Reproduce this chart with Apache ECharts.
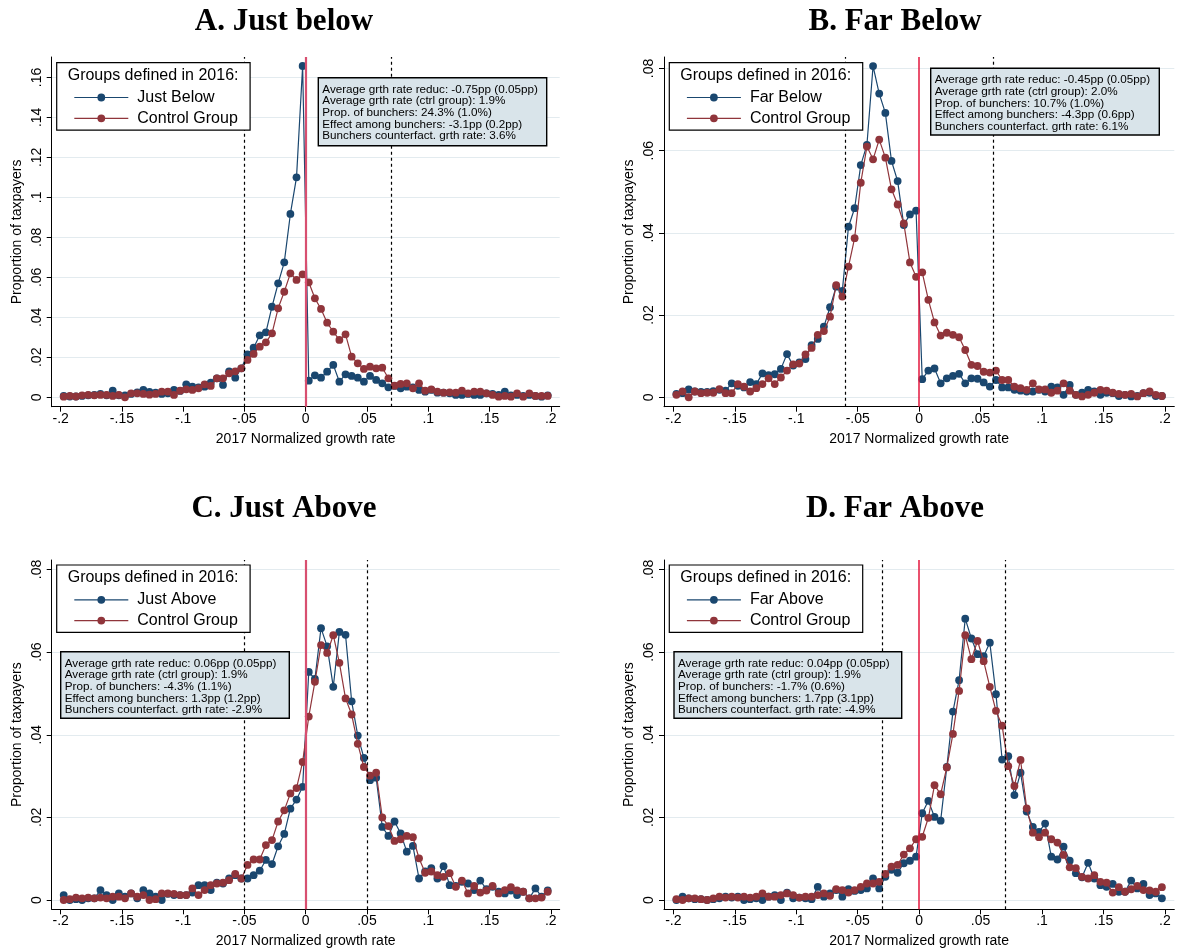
<!DOCTYPE html>
<html><head><meta charset="utf-8">
<script src="https://cdn.jsdelivr.net/npm/echarts@6/dist/echarts.min.js"></script>
<style>html,body{margin:0;padding:0;background:#fff}#c{width:1177px;height:950px}</style>
</head><body><div id="c"></div>
<script>
// ---------------- DATA ----------------
const binCenters = [
-0.1975,-0.1925,-0.1875,-0.1825,-0.1775,-0.1725,-0.1675,-0.1625,-0.1575,-0.1525,
-0.1475,-0.1425,-0.1375,-0.1325,-0.1275,-0.1225,-0.1175,-0.1125,-0.1075,-0.1025,
-0.0975,-0.0925,-0.0875,-0.0825,-0.0775,-0.0725,-0.0675,-0.0625,-0.0575,-0.0525,
-0.0475,-0.0425,-0.0375,-0.0325,-0.0275,-0.0225,-0.0175,-0.0125,-0.0075,-0.0025,
0.0025,0.0075,0.0125,0.0175,0.0225,0.0275,0.0325,0.0375,0.0425,0.0475,
0.0525,0.0575,0.0625,0.0675,0.0725,0.0775,0.0825,0.0875,0.0925,0.0975,
0.1025,0.1075,0.1125,0.1175,0.1225,0.1275,0.1325,0.1375,0.1425,0.1475,
0.1525,0.1575,0.1625,0.1675,0.1725,0.1775,0.1825,0.1875,0.1925,0.1975];

const justBelow = [
0.0007,0.0004,0.0004,0.0007,0.0010,0.0012,0.0017,0.0010,0.0033,0.0010,
0.0010,0.0017,0.0025,0.0037,0.0027,0.0023,0.0017,0.0020,0.0037,0.0032,
0.0065,0.0053,0.0050,0.0053,0.0073,0.0095,0.0062,0.0130,0.0098,0.0145,
0.0215,0.0248,0.0310,0.0325,0.0453,0.0570,0.0675,0.0917,0.1100,0.1657,
0.0083,0.0110,0.0098,0.0128,0.0162,0.0078,0.0115,0.0107,0.0098,0.0078,
0.0107,0.0087,0.0070,0.0050,0.0057,0.0045,0.0053,0.0050,0.0037,0.0028,
0.0037,0.0023,0.0023,0.0020,0.0012,0.0012,0.0017,0.0012,0.0012,0.0020,
0.0017,0.0012,0.0028,0.0010,0.0012,0.0007,0.0012,0.0007,0.0003,0.0010];
const controlA = [
0.0003,0.0007,0.0004,0.0010,0.0012,0.0010,0.0012,0.0012,0.0007,0.0012,
0.0000,0.0020,0.0020,0.0017,0.0013,0.0017,0.0028,0.0028,0.0012,0.0033,
0.0040,0.0037,0.0045,0.0065,0.0057,0.0095,0.0095,0.0120,0.0130,0.0145,
0.0187,0.0217,0.0253,0.0275,0.0320,0.0445,0.0528,0.0620,0.0587,0.0615,
0.0575,0.0495,0.0442,0.0373,0.0328,0.0287,0.0315,0.0203,0.0170,0.0142,
0.0153,0.0145,0.0148,0.0095,0.0058,0.0067,0.0070,0.0045,0.0070,0.0033,
0.0040,0.0028,0.0023,0.0025,0.0023,0.0033,0.0020,0.0028,0.0028,0.0020,
0.0012,0.0003,0.0007,0.0003,0.0020,0.0003,0.0020,0.0007,0.0007,0.0007];

const farBelow = [
0.0008,0.0010,0.0019,0.0014,0.0013,0.0013,0.0015,0.0018,0.0016,0.0034,
0.0028,0.0024,0.0037,0.0032,0.0058,0.0054,0.0056,0.0069,0.0105,0.0077,
0.0085,0.0093,0.0127,0.0142,0.0172,0.0219,0.0269,0.0259,0.0415,0.0460,
0.0565,0.0614,0.0806,0.0739,0.0692,0.0575,0.0526,0.0419,0.0445,0.0454,
0.0044,0.0065,0.0070,0.0034,0.0046,0.0052,0.0057,0.0034,0.0046,0.0045,
0.0036,0.0026,0.0042,0.0024,0.0024,0.0018,0.0016,0.0014,0.0014,0.0018,
0.0014,0.0026,0.0024,0.0006,0.0030,0.0006,0.0011,0.0018,0.0014,0.0006,
0.0011,0.0010,0.0003,0.0006,0.0002,0.0003,0.0010,0.0011,0.0003,0.0003];
const controlB = [
0.0006,0.0014,0.0000,0.0014,0.0010,0.0011,0.0011,0.0020,0.0010,0.0010,
0.0032,0.0026,0.0014,0.0022,0.0032,0.0046,0.0032,0.0048,0.0065,0.0080,
0.0082,0.0104,0.0120,0.0152,0.0161,0.0196,0.0273,0.0245,0.0318,0.0387,
0.0522,0.0610,0.0579,0.0627,0.0583,0.0506,0.0469,0.0423,0.0328,0.0293,
0.0304,0.0237,0.0182,0.0150,0.0157,0.0152,0.0146,0.0115,0.0079,0.0076,
0.0062,0.0060,0.0065,0.0042,0.0042,0.0026,0.0022,0.0018,0.0034,0.0019,
0.0019,0.0011,0.0016,0.0034,0.0016,0.0006,0.0002,0.0006,0.0011,0.0018,
0.0016,0.0011,0.0008,0.0006,0.0008,0.0002,0.0010,0.0014,0.0006,0.0003];

const justAbove = [
0.0012,0.0000,0.0002,0.0000,0.0004,0.0004,0.0024,0.0012,0.0000,0.0016,
0.0008,0.0016,0.0004,0.0024,0.0016,0.0008,0.0000,0.0015,0.0012,0.0012,
0.0012,0.0018,0.0036,0.0036,0.0024,0.0042,0.0040,0.0052,0.0060,0.0052,
0.0052,0.0060,0.0071,0.0097,0.0087,0.0130,0.0160,0.0221,0.0243,0.0274,
0.0552,0.0535,0.0658,0.0614,0.0516,0.0649,0.0642,0.0481,0.0398,0.0344,
0.0290,0.0296,0.0177,0.0155,0.0190,0.0161,0.0117,0.0131,0.0052,0.0069,
0.0077,0.0052,0.0082,0.0036,0.0034,0.0044,0.0040,0.0024,0.0047,0.0026,
0.0032,0.0020,0.0016,0.0023,0.0012,0.0020,0.0004,0.0028,0.0008,0.0023];
const controlC = [
0.0000,0.0002,0.0006,0.0004,0.0006,0.0004,0.0006,0.0004,0.0008,0.0008,
0.0004,0.0016,0.0008,0.0012,0.0000,0.0002,0.0016,0.0016,0.0015,0.0012,
0.0012,0.0028,0.0012,0.0024,0.0036,0.0040,0.0042,0.0048,0.0063,0.0052,
0.0085,0.0098,0.0098,0.0133,0.0145,0.0190,0.0217,0.0258,0.0271,0.0334,
0.0444,0.0528,0.0617,0.0598,0.0641,0.0574,0.0488,0.0449,0.0378,0.0322,
0.0301,0.0308,0.0200,0.0179,0.0143,0.0147,0.0155,0.0152,0.0101,0.0066,
0.0069,0.0060,0.0056,0.0065,0.0032,0.0047,0.0016,0.0034,0.0018,0.0023,
0.0034,0.0016,0.0024,0.0031,0.0023,0.0020,0.0004,0.0004,0.0006,0.0020];

const farAbove = [
0.0000,0.0008,0.0004,0.0002,0.0002,0.0000,0.0002,0.0004,0.0008,0.0006,
0.0008,0.0000,0.0002,0.0004,0.0000,0.0008,0.0012,0.0000,0.0018,0.0004,
0.0006,0.0004,0.0002,0.0032,0.0008,0.0016,0.0024,0.0008,0.0026,0.0022,
0.0024,0.0028,0.0052,0.0028,0.0056,0.0073,0.0066,0.0089,0.0095,0.0105,
0.0210,0.0240,0.0201,0.0192,0.0322,0.0456,0.0532,0.0681,0.0633,0.0595,
0.0590,0.0623,0.0498,0.0340,0.0348,0.0254,0.0308,0.0214,0.0177,0.0165,
0.0185,0.0105,0.0098,0.0129,0.0095,0.0065,0.0055,0.0090,0.0052,0.0036,
0.0032,0.0039,0.0020,0.0020,0.0047,0.0028,0.0039,0.0012,0.0016,0.0004];
const controlD = [
0.0002,0.0000,0.0004,0.0004,0.0002,0.0000,0.0004,0.0008,0.0006,0.0008,
0.0006,0.0008,0.0006,0.0008,0.0016,0.0008,0.0008,0.0012,0.0016,0.0012,
0.0006,0.0008,0.0008,0.0012,0.0016,0.0010,0.0026,0.0024,0.0018,0.0024,
0.0032,0.0040,0.0040,0.0044,0.0063,0.0081,0.0085,0.0110,0.0125,0.0147,
0.0153,0.0199,0.0278,0.0256,0.0321,0.0402,0.0506,0.0641,0.0583,0.0627,
0.0578,0.0516,0.0458,0.0422,0.0324,0.0276,0.0339,0.0222,0.0163,0.0152,
0.0163,0.0147,0.0139,0.0109,0.0079,0.0077,0.0056,0.0052,0.0060,0.0044,
0.0042,0.0018,0.0031,0.0020,0.0026,0.0034,0.0024,0.0023,0.0020,0.0031];

const panelTitles = ['A. Just below', 'B. Far Below', 'C. Just Above', 'D. Far Above'];
const groupNames = ['Just Below', 'Far Below', 'Just Above', 'Far Above'];
const controlName = 'Control Group';
const legendTitle = 'Groups defined in 2016:';
const xAxisTitle = '2017 Normalized growth rate';
const yAxisTitle = 'Proportion of taxpayers';
const xTickValues = [-0.2, -0.15, -0.1, -0.05, 0, 0.05, 0.1, 0.15, 0.2];
const xTickLabels = ['-.2', '-.15', '-.1', '-.05', '0', '.05', '.1', '.15', '.2'];
const yTickValuesA = [0, 0.02, 0.04, 0.06, 0.08, 0.10, 0.12, 0.14, 0.16];
const yTickLabelsA = ['0', '.02', '.04', '.06', '.08', '.1', '.12', '.14', '.16'];
const yTickValuesB = [0, 0.02, 0.04, 0.06, 0.08];
const yTickLabelsB = ['0', '.02', '.04', '.06', '.08'];
const cutoffsA = [-0.05, 0.07];
const cutoffsB = [-0.06, 0.06];
const cutoffsC = [-0.05, 0.05];
const cutoffsD = [-0.03, 0.07];
const statsA = ['Average grth rate reduc: -0.75pp (0.05pp)', 'Average grth rate (ctrl group): 1.9%', 'Prop. of bunchers: 24.3% (1.0%)', 'Effect among bunchers: -3.1pp (0.2pp)', 'Bunchers counterfact. grth rate: 3.6%'];
const statsB = ['Average grth rate reduc: -0.45pp (0.05pp)', 'Average grth rate (ctrl group): 2.0%', 'Prop. of bunchers: 10.7% (1.0%)', 'Effect among bunchers: -4.3pp (0.6pp)', 'Bunchers counterfact. grth rate: 6.1%'];
const statsC = ['Average grth rate reduc: 0.06pp (0.05pp)', 'Average grth rate (ctrl group): 1.9%', 'Prop. of bunchers: -4.3% (1.1%)', 'Effect among bunchers: 1.3pp (1.2pp)', 'Bunchers counterfact. grth rate: -2.9%'];
const statsD = ['Average grth rate reduc: 0.04pp (0.05pp)', 'Average grth rate (ctrl group): 1.9%', 'Prop. of bunchers: -1.7% (0.6%)', 'Effect among bunchers: 1.7pp (3.1pp)', 'Bunchers counterfact. grth rate: -4.9%'];

// ---------------- STYLE / LAYOUT ----------------
const BLUE = '#1a476f', RED = '#90353b';
const FONT = 'Liberation Sans, Arial, sans-serif';
const panels = [
  {grid:{left:51.7, top:57, width:508, height:349.7}, xMin:-0.2073, xMax:0.2073, yMin:-0.0047, yMax:0.1702,
   yVals:yTickValuesA, yLabs:yTickLabelsA, g:justBelow, c:controlA, cut:cutoffsA, stats:statsA,
   zeroColor:'#d84f70', zeroWidth:2.2, title:{x:284, y:22}, leg:{x:56.7, y:62.7}, box:{x:318.3, y:77.7, w:228.4, h:68}},
  {grid:{left:664, top:57, width:510.3, height:349.7}, xMin:-0.2076, xMax:0.2076, yMin:-0.0023, yMax:0.0828,
   yVals:yTickValuesB, yLabs:yTickLabelsB, g:farBelow, c:controlB, cut:cutoffsB, stats:statsB,
   zeroColor:'#e3173e', zeroWidth:1.5, title:{x:895, y:22}, leg:{x:669.3, y:62.7}, box:{x:930.7, y:68.3, w:228.6, h:66.7}},
  {grid:{left:51.7, top:560, width:508, height:349.3}, xMin:-0.2073, xMax:0.2073, yMin:-0.00225, yMax:0.0823,
   yVals:yTickValuesB, yLabs:yTickLabelsB, g:justAbove, c:controlC, cut:cutoffsC, stats:statsC,
   zeroColor:'#d84f70', zeroWidth:2.2, title:{x:284, y:509}, leg:{x:56.7, y:565}, box:{x:60.7, y:651.7, w:228.6, h:66.6}},
  {grid:{left:664, top:560, width:510.3, height:349.3}, xMin:-0.2076, xMax:0.2076, yMin:-0.00225, yMax:0.0823,
   yVals:yTickValuesB, yLabs:yTickLabelsB, g:farAbove, c:controlD, cut:cutoffsD, stats:statsD,
   zeroColor:'#e3173e', zeroWidth:1.5, title:{x:895, y:509}, leg:{x:669.3, y:565}, box:{x:674, y:651.7, w:227.7, h:66.6}}
];

function lookup(vals, labs) {
  return function (v) {
    for (let i = 0; i < vals.length; i++) if (Math.abs(vals[i] - v) < 1e-6) return labs[i];
    return '';
  };
}

const grids = [], xAxes = [], yAxes = [], series = [], graphics = [];
panels.forEach((p, i) => {
  grids.push(Object.assign({containLabel:false}, p.grid));
  xAxes.push({
    type:'value', gridIndex:i, min:p.xMin, max:p.xMax,
    axisLine:{show:true, onZero:false, lineStyle:{color:'#000', width:1}},
    axisTick:{show:true, length:5, customValues:xTickValues, lineStyle:{color:'#000'}},
    axisLabel:{customValues:xTickValues, formatter:lookup(xTickValues, xTickLabels), color:'#000', fontSize:14, fontFamily:FONT, margin:5},
    splitLine:{show:false},
    name:xAxisTitle, nameLocation:'middle', nameGap:25,
    nameTextStyle:{color:'#000', fontSize:14, fontFamily:FONT}
  });
  yAxes.push({
    type:'value', gridIndex:i, min:p.yMin, max:p.yMax,
    axisLine:{show:true, onZero:false, lineStyle:{color:'#000', width:1}},
    axisTick:{show:true, length:5, customValues:p.yVals, lineStyle:{color:'#000'}},
    axisLabel:{customValues:p.yVals, formatter:lookup(p.yVals, p.yLabs), rotate:90, color:'#000', fontSize:14, fontFamily:FONT, margin:8},
    splitLine:{show:true, lineStyle:{color:'#e3ebef', width:1}},
    name:yAxisTitle, nameLocation:'middle', nameGap:28,
    nameTextStyle:{color:'#000', fontSize:14, fontFamily:FONT}
  });
  const dash = {color:'#000', width:1.2, type:[3, 3]};
  series.push({
    type:'line', name:groupNames[i], xAxisIndex:i, yAxisIndex:i,
    data:binCenters.map((x, k) => [x, p.g[k]]),
    symbol:'circle', symbolSize:7.8, itemStyle:{color:BLUE}, lineStyle:{color:BLUE, width:1.2},
    markLine:{silent:true, symbol:'none', label:{show:false}, animation:false,
      data:[
        {xAxis:p.cut[0], lineStyle:dash},
        {xAxis:p.cut[1], lineStyle:dash},
        {xAxis:0, lineStyle:{color:p.zeroColor, width:p.zeroWidth, type:'solid'}}
      ]},
    z:2
  });
  series.push({
    type:'line', name:controlName, xAxisIndex:i, yAxisIndex:i,
    data:binCenters.map((x, k) => [x, p.c[k]]),
    symbol:'circle', symbolSize:7.8, itemStyle:{color:RED}, lineStyle:{color:RED, width:1.2},
    z:3
  });
  // title
  graphics.push({type:'text', x:p.title.x, y:p.title.y, style:{text:panelTitles[i], fill:'#000',
    font:'bold 31px "Liberation Serif", "Times New Roman", serif', textAlign:'center', textVerticalAlign:'middle'}});
  // legend box
  const L = p.leg;
  graphics.push({type:'rect', shape:{x:L.x, y:L.y, width:193.4, height:67.4}, style:{fill:'#fff', stroke:'#000', lineWidth:1.2}, z:10});
  graphics.push({type:'text', x:L.x + 11, y:L.y + 12.8, style:{text:legendTitle, fill:'#000', font:'16px ' + FONT, textVerticalAlign:'middle'}, z:11});
  [[groupNames[i], BLUE, 34.8], [controlName, RED, 55.6]].forEach(([nm, col, dy]) => {
    graphics.push({type:'line', shape:{x1:L.x + 17.6, y1:L.y + dy, x2:L.x + 71.6, y2:L.y + dy}, style:{stroke:col, lineWidth:1.2}, z:11});
    graphics.push({type:'circle', shape:{cx:L.x + 44.6, cy:L.y + dy, r:3.9}, style:{fill:col}, z:12});
    graphics.push({type:'text', x:L.x + 80.6, y:L.y + dy, style:{text:nm, fill:'#000', font:'16px ' + FONT, textVerticalAlign:'middle'}, z:11});
  });
  // stats box
  const B = p.box;
  graphics.push({type:'rect', shape:{x:B.x, y:B.y, width:B.w, height:B.h}, style:{fill:'#d9e4ea', stroke:'#000', lineWidth:1.4}, z:10});
  p.stats.forEach((s, j) => {
    graphics.push({type:'text', x:B.x + 4, y:B.y + 11.6 + j * 11.7, style:{text:s, fill:'#000', font:'11.7px ' + FONT, textVerticalAlign:'middle'}, z:11});
  });
});

const chart = echarts.init(document.getElementById('c'), null, {renderer:'canvas'});
chart.setOption({
  animation:false,
  backgroundColor:'#fff',
  grid:grids, xAxis:xAxes, yAxis:yAxes, series:series,
  graphic:{elements:graphics}
});
</script>
</body></html>
